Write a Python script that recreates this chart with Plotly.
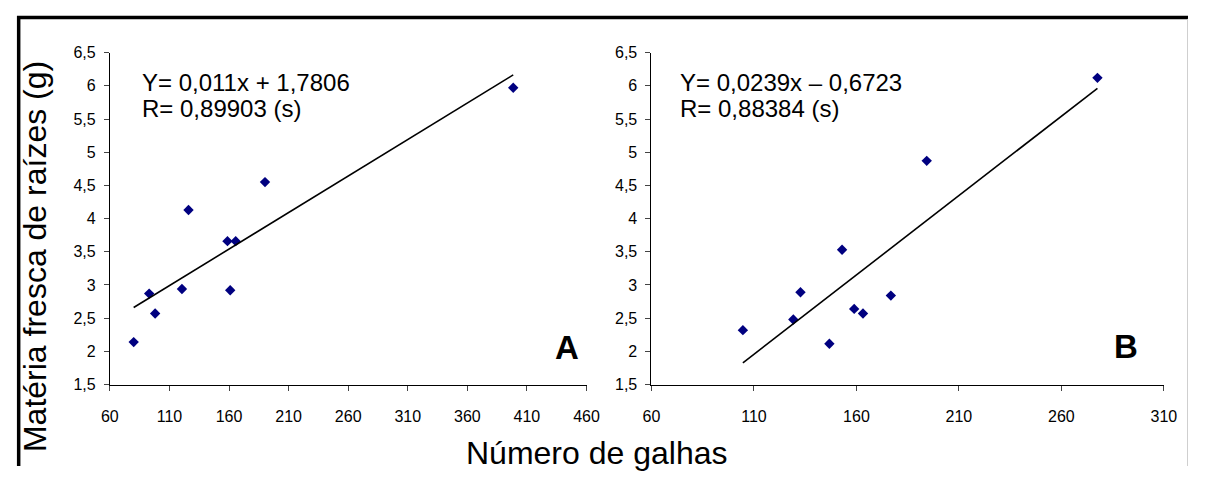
import plotly.graph_objects as go

# ---------------- data ----------------
galhas_A = [80, 93, 98, 120.5, 126, 158.7, 161, 165.6, 190.2, 398.5]
massa_A = [2.14, 2.87, 2.57, 2.94, 4.13, 3.66, 2.92, 3.66, 4.55, 5.97]

galhas_B = [104.6, 129.2, 132.7, 146.8, 153, 158.9, 163.2, 176.8, 194.3, 277.6]
massa_B = [2.32, 2.48, 2.89, 2.115, 3.53, 2.64, 2.57, 2.84, 4.87, 6.12]

coef_A = [0.011, 1.7806]     # slope, intercept
coef_B = [0.0239, -0.6723]

eq_A = ["Y= 0,011x + 1,7806", "R= 0,89903 (s)"]
eq_B = ["Y= 0,0239x \u2013 0,6723", "R= 0,88384 (s)"]

y_ticks = [1.5, 2, 2.5, 3, 3.5, 4, 4.5, 5, 5.5, 6, 6.5]
y_ticktext = ["1,5", "2", "2,5", "3", "3,5", "4", "4,5", "5", "5,5", "6", "6,5"]
x_ticks_A = [60, 110, 160, 210, 260, 310, 360, 410, 460]
x_ticks_B = [60, 110, 160, 210, 260, 310]

y_title = "Matéria fresca de raízes (g)"
x_title = "Número de galhas"
panel_labels = ["A", "B"]

# ---------------- layout helpers ----------------
# The page body keeps the browser's default 8px margin, so the figure is
# made 16px smaller than the window and all positions are page pixels.
PAGE_W, PAGE_H = 1209, 483
OFF = 8
W, H = PAGE_W - 2 * OFF, PAGE_H - 2 * OFF


def px(x):
    return (x - OFF) / W


def py(y):
    return 1 - (y - OFF) / H


NAVY = "#000080"
TICKFONT = dict(family="Liberation Sans Narrow, Arial Narrow, Liberation Sans, Arial", size=16, color="black")
TEXTFONT = "Liberation Sans, Arial, sans-serif"

fig = go.Figure()

for gx, gy, coef, xa, ya in [
    (galhas_A, massa_A, coef_A, "x", "y"),
    (galhas_B, massa_B, coef_B, "x2", "y2"),
]:
    fig.add_trace(go.Scatter(
        x=gx, y=gy, mode="markers", xaxis=xa, yaxis=ya,
        marker=dict(symbol="diamond", size=8, color=NAVY, line=dict(width=0)),
        showlegend=False, hoverinfo="x+y",
    ))
    xs = [min(gx), max(gx)]
    ys = [coef[0] * v + coef[1] for v in xs]
    fig.add_trace(go.Scatter(
        x=xs, y=ys, mode="lines", xaxis=xa, yaxis=ya,
        line=dict(color="black", width=1.6), showlegend=False, hoverinfo="skip",
    ))

ydom = [py(390.5), py(46)]
axis_common = dict(
    showline=True, linecolor="black", linewidth=1, showgrid=False, zeroline=False,
    ticks="outside", ticklen=5, tickcolor="#444", tickwidth=1, tickfont=TICKFONT,
    fixedrange=True,
)

fig.update_layout(
    width=W, height=H,
    margin=dict(l=0, r=0, t=0, b=0),
    paper_bgcolor="white", plot_bgcolor="white",
    separators=",.",
    showlegend=False,
    xaxis=dict(domain=[px(102.6), px(588.2)], range=[60, 460], tickvals=x_ticks_A,
               ticktext=[str(v) for v in x_ticks_A], anchor="y", ticklabelstandoff=12, **axis_common),
    yaxis=dict(domain=ydom, range=[1.5, 6.5], tickvals=y_ticks, ticktext=y_ticktext,
               anchor="x", ticklabelstandoff=5, **axis_common),
    xaxis2=dict(domain=[px(654.4), px(1176.4)], range=[60, 310], tickvals=x_ticks_B,
                ticktext=[str(v) for v in x_ticks_B], anchor="y2", ticklabelstandoff=12, **axis_common),
    yaxis2=dict(domain=ydom, range=[1.5, 6.5], tickvals=y_ticks, ticktext=y_ticktext,
                anchor="x2", ticklabelstandoff=5, **axis_common),
)

ann = []
for eq, left in [(eq_A, 133), (eq_B, 681.6)]:
    for line, cy in zip(eq, [77.5, 104]):
        ann.append(dict(text=line, x=px(left), y=py(cy), xref="paper", yref="paper",
                        xanchor="left", yanchor="middle", showarrow=False,
                        font=dict(family=TEXTFONT, size=24, color="black")))
for lab, cx, cy in zip(panel_labels, [568, 1138], [352, 351]):
    ann.append(dict(text="<b>%s</b>" % lab, x=px(cx), y=py(cy), xref="paper", yref="paper",
                    xanchor="center", yanchor="middle", showarrow=False,
                    font=dict(family=TEXTFONT, size=33, color="black")))
ann.append(dict(text=y_title, x=px(26.5), y=py(258), xref="paper", yref="paper",
                xanchor="center", yanchor="middle", textangle=-90, showarrow=False,
                font=dict(family=TEXTFONT, size=32, color="black")))
ann.append(dict(text=x_title, x=px(598), y=py(461), xref="paper", yref="paper",
                xanchor="center", yanchor="middle", showarrow=False,
                font=dict(family=TEXTFONT, size=32, color="black")))
fig.update_layout(annotations=ann)

# outer frame: thick black top and left, thin grey right
fig.update_layout(shapes=[
    dict(type="line", xref="paper", yref="paper", x0=0, x1=1, y0=py(9.5), y1=py(9.5),
         line=dict(color="black", width=3.5)),
    dict(type="line", xref="paper", yref="paper", x0=px(9.7), x1=px(9.7), y0=py(8), y1=0,
         line=dict(color="black", width=3.5)),
    dict(type="line", xref="paper", yref="paper", x0=px(1200.5), x1=px(1200.5), y0=py(11), y1=0,
         line=dict(color="#cfcfcf", width=1)),
])

fig.write_html("out.html", config={"displayModeBar": False})
